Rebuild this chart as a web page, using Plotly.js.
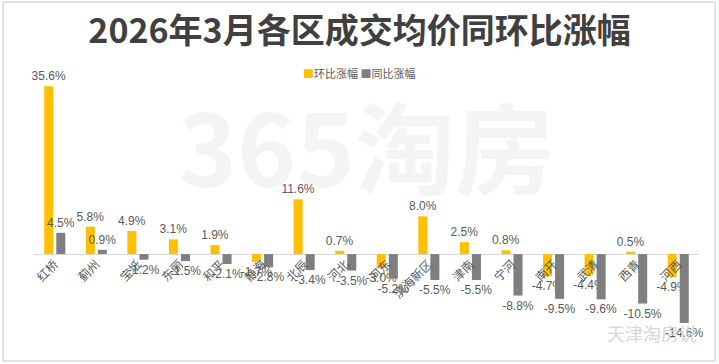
<!DOCTYPE html>
<html>
<head>
<meta charset="utf-8">
<script src="https://cdn.plot.ly/plotly-3.0.1.min.js"></script>
<style>
html,body{margin:0;padding:0;background:#fff;}
#chart{width:719px;height:364px;}
</style>
</head>
<body>
<div id="chart"></div>
<script>
const districts = ['红桥','蓟州','宝坻','东丽','和平','静海','北辰','河北','河东','滨海新区','津南','宁河','南开','武清','西青','河西'];
const momChange = [35.6, 5.8, 4.9, 3.1, 1.9, -1.7, 11.6, 0.7, -3.0, 8.0, 2.5, 0.8, -4.7, -4.4, 0.5, -4.9];
const yoyChange = [4.5, 0.9, -1.2, -1.5, -2.1, -2.8, -3.4, -3.5, -5.2, -5.5, -5.5, -8.8, -9.5, -9.6, -10.5, -14.6];
const seriesNames = ['环比涨幅','同比涨幅'];
const seriesColors = ['#ffc000','#7f7f7f'];
const titleText = '2026年3月各区成交均价同环比涨幅';

const fmt = v => v.toFixed(1) + '%';
const labelFont = {family:'Liberation Sans, Arial, sans-serif', size:12, color:'#595959'};

const traces = [
  {type:'bar', name:seriesNames[0], x:districts, y:momChange,
   marker:{color:seriesColors[0]}, text:momChange.map(fmt), textposition:'outside',
   textfont:labelFont, cliponaxis:false, constraintext:'none', textangle:0, hoverinfo:'x+y'},
  {type:'bar', name:seriesNames[1], x:districts, y:yoyChange,
   marker:{color:seriesColors[1]}, text:yoyChange.map(fmt), textposition:'outside',
   textfont:labelFont, cliponaxis:false, constraintext:'none', textangle:0, hoverinfo:'x+y'}
];

const yMin = -16.1, yMax = 36.9;
const zeroPos = (0 - yMin) / (yMax - yMin);

const legendText = seriesNames.map((n,i) =>
  '<span style="color:' + seriesColors[i] + '">■</span>' + n).join(' ');

const layout = {
  width:719, height:364,
  margin:{l:34, r:20, t:80, b:34},
  paper_bgcolor:'#ffffff', plot_bgcolor:'rgba(0,0,0,0)',
  title:{text:titleText, x:0.5, xref:'container', xanchor:'center', y:0.915, yanchor:'middle',
    font:{family:'Noto Sans CJK SC, sans-serif', size:34, color:'#404040', weight:'bold'}},
  barmode:'group', bargap:0.42, bargroupgap:0.25,
  showlegend:false,
  xaxis:{type:'category', anchor:'free', position:zeroPos, showline:false, showgrid:false,
    ticks:'', tickangle:-45, ticklabelstandoff:0,
    tickfont:{family:'Noto Sans CJK SC, sans-serif', size:12, color:'#595959'}},
  yaxis:{range:[yMin, yMax], showgrid:false, showticklabels:false, ticks:'',
    zeroline:true, zerolinecolor:'#d9d9d9', zerolinewidth:1, showline:false},
  annotations:[
    {text:'365淘房', xref:'paper', yref:'paper', x:0.50, y:0.745, xanchor:'center', yanchor:'middle', showarrow:false,
     font:{family:'Noto Sans CJK SC, sans-serif', size:100, color:'rgba(200,200,200,0.2)', weight:'bold'}},
    {text:legendText, xref:'paper', yref:'paper', x:(301-34)/665, y:1+(80-73)/250, xanchor:'left', yanchor:'middle', showarrow:false,
     font:{family:'Noto Sans CJK SC, sans-serif', size:11, color:'#595959'}},
    {text:'天津淘房说', xref:'paper', yref:'paper', x:1.0, y:-0.07, xanchor:'right', showarrow:false,
     font:{family:'Noto Sans CJK SC, sans-serif', size:18, color:'#d6d6d6'}}
  ],
  shapes:[
    {type:'rect', xref:'paper', yref:'paper', x0:-31/665, x1:(715-34)/665, y0:-31/250, y1:1+78/250,
     line:{color:'#d9d9d9', width:1.5}, fillcolor:'rgba(0,0,0,0)', layer:'below'}
  ]
};

Plotly.newPlot('chart', traces, layout, {displayModeBar:false, staticPlot:true});
</script>
</body>
</html>
